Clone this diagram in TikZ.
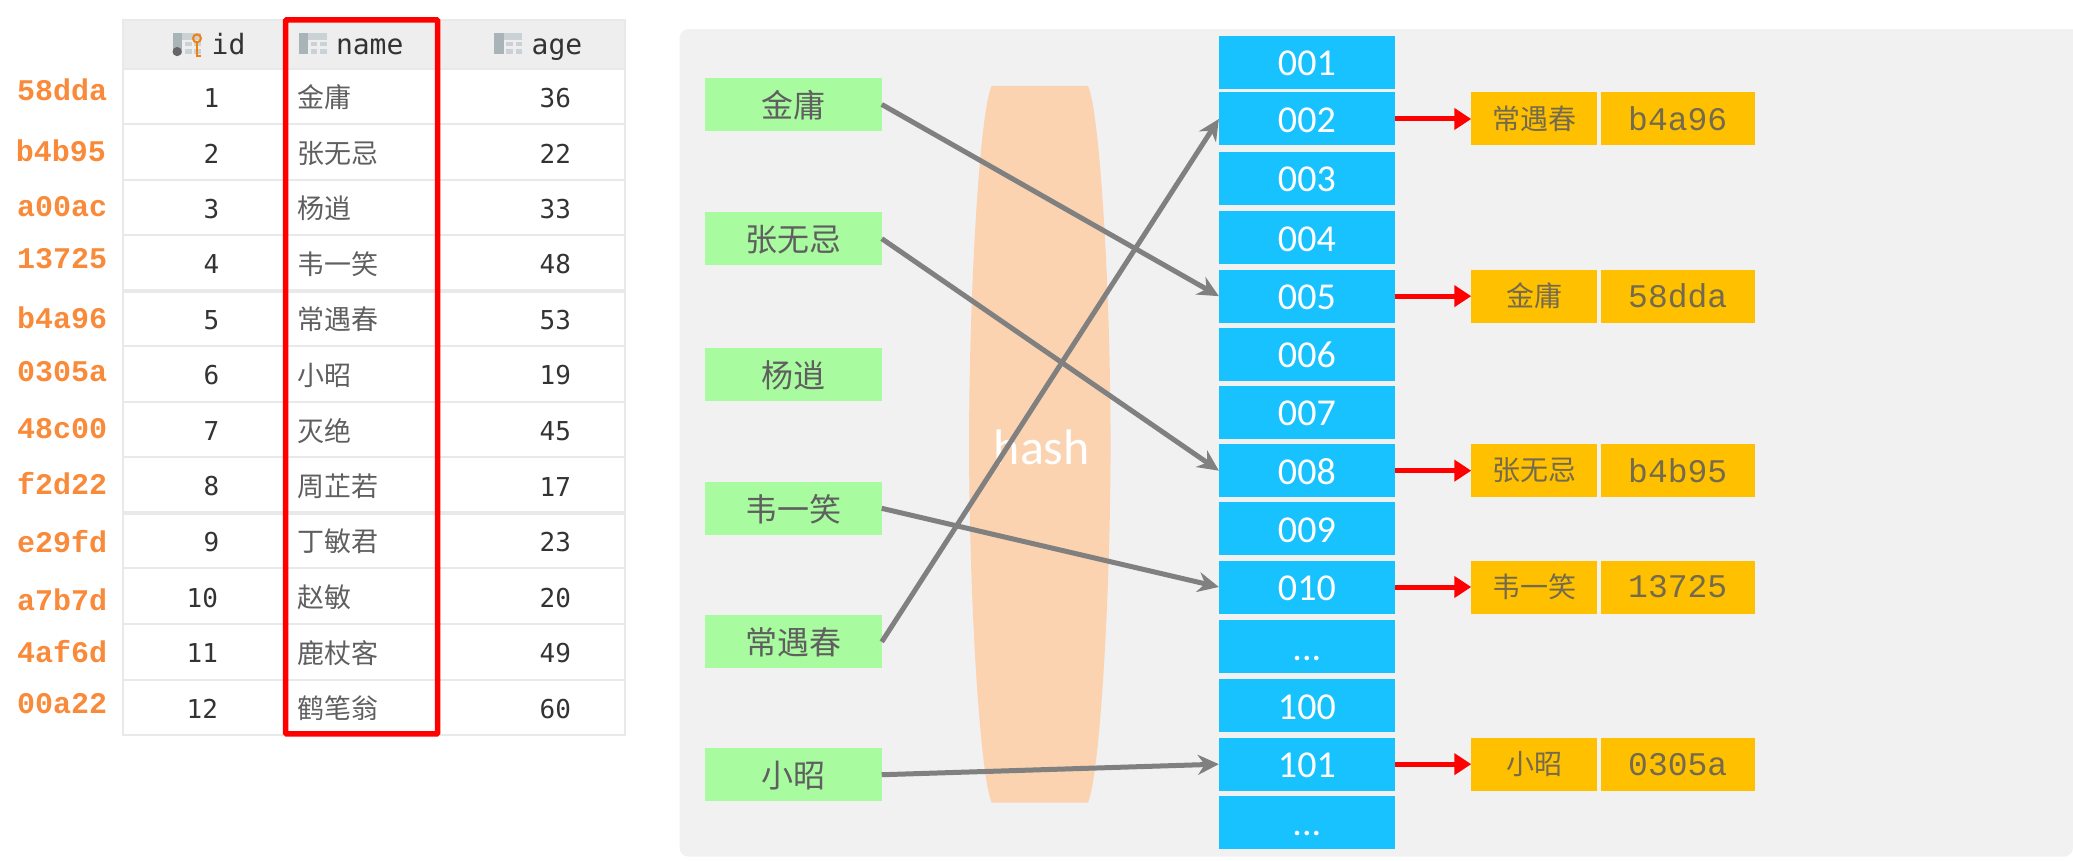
\documentclass[tikz,border=0pt]{standalone}
\usepackage{fontspec}
\setmainfont{Carlito}
\newfontfamily\cjk{Noto Sans CJK SC}
\newfontfamily\codefont{DejaVu Sans Mono}
\newfontfamily\hexfont{Liberation Mono}
\usetikzlibrary{arrows.meta}
\definecolor{panelgray}{HTML}{F1F1F1}
\definecolor{hashpeach}{HTML}{FBD3B0}
\definecolor{keygreen}{HTML}{A9FB9F}
\definecolor{slotblue}{HTML}{18C2FF}
\definecolor{entryamber}{HTML}{FFC000}
\definecolor{hexorange}{HTML}{F98A3A}
\definecolor{headgray}{HTML}{EEEEEE}
\definecolor{ruleline}{HTML}{E9E9E9}
\definecolor{inkgray}{HTML}{5F5F5F}
\definecolor{inkolive}{HTML}{746A4E}
\definecolor{icongray}{HTML}{A9B4B9}
\tikzset{
  keybox/.style={rectangle, fill=keygreen, minimum width=177pt, minimum height=53pt, inner sep=0pt, outer sep=0pt, text=inkgray, text height=30pt, text depth=4pt, font=\cjk\fontsize{32}{32}\selectfont},
  slot/.style={rectangle, fill=slotblue, minimum width=176pt, minimum height=53pt, inner sep=0pt, outer sep=0pt, text=white, text height=27pt, text depth=0pt, font=\fontsize{38}{38}\selectfont},
  namebox/.style={rectangle, fill=entryamber, minimum width=126pt, minimum height=53pt, inner sep=0pt, outer sep=0pt, text=inkolive, font=\cjk\fontsize{28}{28}\selectfont},
  hexbox/.style={rectangle, fill=entryamber, minimum width=154pt, minimum height=53pt, inner sep=0pt, outer sep=0pt, text=inkolive, font=\hexfont\fontsize{33}{33}\selectfont},
  hexlabel/.style={text=hexorange, font=\hexfont\bfseries\fontsize{30}{30}\selectfont},
  headcell/.style={anchor=base west, inner sep=0pt, text=black!80, font=\codefont\fontsize{28}{28}\selectfont},
  numcell/.style={text=black!80, font=\codefont\fontsize{26}{26}\selectfont},
  namecell/.style={anchor=west, inner sep=0pt, text=inkgray, font=\cjk\fontsize{27}{27}\selectfont},
  hasharrow/.style={draw=gray, line width=5pt, -{Stealth[length=21pt, width=20pt]}},
  hitarrow/.style={draw=red, line width=5pt, -{Triangle[length=17pt, width=21pt]}},
}
\newcommand{\colicon}[2]{%
  \fill[icongray] (#1-10,#2-8) rectangle (#1-3,#2+8);
  \fill[icongray!60] (#1-3,#2-8) rectangle (#1+11,#2-3);
  \fill[icongray!60] (#1-1,#2-1) rectangle (#1+4,#2+2);
  \fill[icongray!60] (#1+6,#2-1) rectangle (#1+11,#2+2);
  \fill[icongray!60] (#1-1,#2+4) rectangle (#1+4,#2+8);
  \fill[icongray!60] (#1+6,#2+4) rectangle (#1+11,#2+8);
}
\begin{document}
\begin{tikzpicture}[x=1.3221pt, y=-1.3221pt]
    \useasboundingbox (0,0) rectangle (1568,651);
    % table
    \fill[headgray] (93,15) rectangle (473,52);
    \draw[ruleline, line width=2pt] (93,15) rectangle (473,556);
    \foreach \y in {52,94,136,178,220,262,304,346,388,430,472,514}
        \draw[ruleline, line width=2pt] (93,\y) -- (473,\y);
    \draw[ruleline, line width=3.5pt] (93,220) -- (473,220);
    \draw[ruleline, line width=3.5pt] (93,388) -- (473,388);
    % header icons
    \colicon{141}{33}
    \fill[black!60] (134,39) circle (3.5);
    \draw[orange!80!brown, line width=2pt] (149,29) circle (3);
    \draw[orange!80!brown, line width=2pt] (149,32) -- (149,42) -- (152,42);
    \colicon{236}{33}
    \colicon{384}{33}
    \node[headcell] (hid) at (160,41) {id};
    \node[headcell] (hname) at (254,41) {name};
    \node[headcell] (hage) at (402,41) {age};
    % rows
    \node[numcell] (n1) at (160,74) {1};
    \node[namecell] (m1) at (225,76) {\strut 金庸};
    \node[numcell] (a1) at (420,74) {36};
    \node[numcell] (n2) at (160,116) {2};
    \node[namecell] (m2) at (225,118) {\strut 张无忌};
    \node[numcell] (a2) at (420,116) {22};
    \node[numcell] (n3) at (160,158) {3};
    \node[namecell] (m3) at (225,160) {\strut 杨逍};
    \node[numcell] (a3) at (420,158) {33};
    \node[numcell] (n4) at (160,200) {4};
    \node[namecell] (m4) at (225,202) {\strut 韦一笑};
    \node[numcell] (a4) at (420,200) {48};
    \node[numcell] (n5) at (160,242) {5};
    \node[namecell] (m5) at (225,244) {\strut 常遇春};
    \node[numcell] (a5) at (420,242) {53};
    \node[numcell] (n6) at (160,284) {6};
    \node[namecell] (m6) at (225,286) {\strut 小昭};
    \node[numcell] (a6) at (420,284) {19};
    \node[numcell] (n7) at (160,326) {7};
    \node[namecell] (m7) at (225,328) {\strut 灭绝};
    \node[numcell] (a7) at (420,326) {45};
    \node[numcell] (n8) at (160,368) {8};
    \node[namecell] (m8) at (225,370) {\strut 周芷若};
    \node[numcell] (a8) at (420,368) {17};
    \node[numcell] (n9) at (160,410) {9};
    \node[namecell] (m9) at (225,412) {\strut 丁敏君};
    \node[numcell] (a9) at (420,410) {23};
    \node[numcell] (n10) at (153,452) {10};
    \node[namecell] (m10) at (225,454) {\strut 赵敏};
    \node[numcell] (a10) at (420,452) {20};
    \node[numcell] (n11) at (153,494) {11};
    \node[namecell] (m11) at (225,496) {\strut 鹿杖客};
    \node[numcell] (a11) at (420,494) {49};
    \node[numcell] (n12) at (153,536) {12};
    \node[namecell] (m12) at (225,538) {\strut 鹤笔翁};
    \node[numcell] (a12) at (420,536) {60};
    \draw[red, line width=5.5pt, rounded corners=1pt] (216,15) rectangle (331,555);
    % row addresses
    \node[hexlabel] (h1) at (47,68) {58dda};
    \node[hexlabel] (h2) at (46,114) {b4b95};
    \node[hexlabel] (h3) at (47,156) {a00ac};
    \node[hexlabel] (h4) at (47,196) {13725};
    \node[hexlabel] (h5) at (47,240) {b4a96};
    \node[hexlabel] (h6) at (47,281) {0305a};
    \node[hexlabel] (h7) at (47,324) {48c00};
    \node[hexlabel] (h8) at (47,366) {f2d22};
    \node[hexlabel] (h9) at (47,410) {e29fd};
    \node[hexlabel] (h10) at (47,454) {a7b7d};
    \node[hexlabel] (h11) at (47,493) {4af6d};
    \node[hexlabel] (h12) at (47,532) {00a22};
    % panel
    \fill[panelgray, rounded corners=9pt] (1568,22) -- (514,22) -- (514,648) -- (1568,648) [sharp corners] -- cycle;
    \fill[hashpeach] (750,65) -- (823,65) .. controls (832,85) and (840,220) .. (840,336) .. controls (840,450) and (832,585) .. (823,607) -- (750,607) .. controls (741,585) and (733,450) .. (733,336) .. controls (733,220) and (741,85) .. (750,65) -- cycle;
    \node[text=white, font=\fontsize{50}{50}\selectfont] (hash) at (788,338) {hash};
    % keys
    \node[keybox] (k1) at (600,79) {金庸};
    \node[keybox] (k2) at (600,180.5) {张无忌};
    \node[keybox] (k3) at (600,283) {杨逍};
    \node[keybox] (k4) at (600,384.5) {韦一笑};
    \node[keybox] (k5) at (600,485.5) {常遇春};
    \node[keybox] (k6) at (600,586) {小昭};
    % slots
    \node[slot] (s001) at (988.5,47) {001};
    \node[slot] (s002) at (988.5,90) {002};
    \node[slot] (s003) at (988.5,135) {003};
    \node[slot] (s004) at (988.5,180) {004};
    \node[slot] (s005) at (988.5,224) {005};
    \node[slot] (s006) at (988.5,268) {006};
    \node[slot] (s007) at (988.5,312) {007};
    \node[slot] (s008) at (988.5,356) {008};
    \node[slot] (s009) at (988.5,400) {009};
    \node[slot] (s010) at (988.5,444) {010};
    \node[slot] (s011) at (988.5,489) {...};
    \node[slot] (s100) at (988.5,534) {100};
    \node[slot] (s101) at (988.5,578) {101};
    \node[slot] (s102) at (988.5,622) {...};
    % entries
    \node[namebox] (e1) at (1160.5,90) {常遇春};
    \node[hexbox] (x1) at (1269,90) {b4a96};
    \node[namebox] (e2) at (1160.5,224) {金庸};
    \node[hexbox] (x2) at (1269,224) {58dda};
    \node[namebox] (e3) at (1160.5,356) {张无忌};
    \node[hexbox] (x3) at (1269,356) {b4b95};
    \node[namebox] (e4) at (1160.5,444) {韦一笑};
    \node[hexbox] (x4) at (1269,444) {13725};
    \node[namebox] (e5) at (1160.5,578) {小昭};
    \node[hexbox] (x5) at (1269,578) {0305a};
    % arrows
    \draw[hasharrow] (k1.east) -- (s005.west);
    \draw[hasharrow] (k2.east) -- (s008.west);
    \draw[hasharrow] (k4.east) -- (s010.west);
    \draw[hasharrow] (k5.east) -- (s002.west);
    \draw[hasharrow] (k6.east) -- (s101.west);
    \draw[hitarrow] (s002.east) -- (e1.west);
    \draw[hitarrow] (s005.east) -- (e2.west);
    \draw[hitarrow] (s008.east) -- (e3.west);
    \draw[hitarrow] (s010.east) -- (e4.west);
    \draw[hitarrow] (s101.east) -- (e5.west);
\end{tikzpicture}
\end{document}
